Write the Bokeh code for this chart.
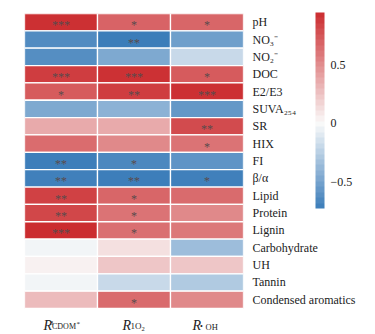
import numpy as np
from bokeh.plotting import figure
from bokeh.models import (ColumnDataSource, LinearColorMapper, ColorBar, FixedTicker,
                          CustomJSTickFormatter, Range1d, LinearAxis)
from bokeh.embed import file_html
from bokeh.resources import INLINE
from bokeh.core.properties import value

# ---------------- data ----------------
rows = ["pH", "NO\u2083\u207b", "NO\u2082\u207b", "DOC", "E2/E3", "SUVA\u2082\u2085\u2084",
        "SR", "HIX", "FI", "\u03b2/\u03b1", "Lipid", "Protein", "Lignin",
        "Carbohydrate", "UH", "Tannin", "Condensed aromatics"]
cols = ["R3CDOM*", "R1O2", "R.OH"]

r_3cdom = [0.93, -0.64, -0.63, 0.87, 0.73, -0.47, 0.37, 0.65, -0.72, -0.71,
           0.85, 0.82, 0.95, -0.03, 0.04, -0.03, 0.29]
r_1o2 = [0.69, -0.73, -0.47, 0.92, 0.87, -0.42, 0.37, 0.52, -0.66, -0.72,
         0.68, 0.62, 0.64, 0.12, 0.24, -0.19, 0.66]
r_oh = [0.68, -0.53, -0.19, 0.73, 0.93, -0.57, 0.80, 0.62, -0.59, -0.71,
        0.66, 0.52, 0.60, -0.35, 0.24, -0.28, 0.52]

sig_3cdom = ["***", "", "", "***", "*", "", "", "", "**", "**", "**", "**", "***", "", "", "", ""]
sig_1o2 = ["*", "**", "", "***", "**", "", "", "", "*", "**", "*", "*", "*", "", "", "", "*"]
sig_oh = ["*", "", "", "*", "***", "", "**", "*", "", "*", "", "", "", "", "", "", ""]

cb_ticks = [-0.5, 0, 0.5]

# ---------------- colours ----------------
LO, HI = -0.73, 0.95
C_LOW = np.array([58, 124, 185])
C_MID = np.array([250, 250, 250])
C_HIGH = np.array([203, 43, 46])


def col_at(v):
    if v >= 0:
        t = v / HI
        c = C_MID + t * (C_HIGH - C_MID)
    else:
        t = v / LO
        c = C_MID + t * (C_LOW - C_MID)
    c = np.clip(np.round(c), 0, 255).astype(int)
    return "#%02x%02x%02x" % tuple(c)


def make_palette(k):
    return [col_at(LO + (i + 0.5) * (HI - LO) / k) for i in range(k)]


mapper = LinearColorMapper(palette=make_palette(256), low=LO, high=HI)
mapper_cb = LinearColorMapper(palette=make_palette(36), low=LO, high=HI)

# ---------------- table ----------------
n = len(rows)
xs, ys, vs, ss = [], [], [], []
for j, (vals, sigs) in enumerate([(r_3cdom, sig_3cdom), (r_1o2, sig_1o2), (r_oh, sig_oh)]):
    for i in range(n):
        xs.append(j + 0.5)
        ys.append(n - 1 - i + 0.5)
        vs.append(vals[i])
        ss.append(sigs[i])
src = ColumnDataSource(dict(x=xs, y=ys, v=vs, s=ss))

SERIF = "Liberation Serif"
BOTTOM_PAD = 26 / (295 / n)   # room below the cells for the column labels

p = figure(width=375, height=334, x_range=Range1d(0, 3), y_range=Range1d(-BOTTOM_PAD, n),
           x_axis_location=None, y_axis_location=None,
           min_border_left=24, min_border_right=132, min_border_top=13, min_border_bottom=0,
           output_backend="svg", toolbar_location=None, outline_line_color=None)
p.grid.visible = False
p.background_fill_color = "white"
p.border_fill_color = "white"

p.rect(x="x", y="y", width=1, height=1, source=src,
       fill_color={"field": "v", "transform": mapper}, line_color="white", line_width=1.3)
p.text(x="x", y="y", text="s", source=src, text_align="center", text_baseline="middle",
       text_font=value(SERIF), text_font_size="12px", text_color="#5a4a4c", y_offset=3)

# row labels on right axis
labels_bottom_up = rows[::-1]
ax = LinearAxis(ticker=FixedTicker(ticks=[i + 0.5 for i in range(n)]),
                formatter=CustomJSTickFormatter(args=dict(labels=labels_bottom_up),
                                                code="return (tick > 0) ? labels[Math.floor(tick)] : '';"))
ax.axis_line_color = None
ax.major_tick_line_color = None
ax.minor_tick_line_color = None
ax.major_label_standoff = 3
ax.major_label_text_font = SERIF
ax.major_label_text_font_size = "12px"
ax.major_label_text_color = "#222222"
p.add_layout(ax, "right")

# colour bar
cb = ColorBar(color_mapper=mapper_cb, ticker=FixedTicker(ticks=cb_ticks),
              formatter=CustomJSTickFormatter(code="return tick < 0 ? '\u2212' + Math.abs(tick) : '' + tick;"),
              width=9, height=196, location=(291, 126), padding=0, margin=0,
              major_tick_line_color=None, minor_tick_line_color=None, bar_line_color=None,
              border_line_color=None, background_fill_color=None, label_standoff=6,
              major_label_text_font=SERIF, major_label_text_font_size="12px",
              major_label_text_color="#222222")
p.add_layout(cb)

# column labels (italic R with sub/superscripts), drawn as text glyphs below the cells
def lab(x, text, dx, dy, size, italic=False):
    p.text(x=[x], y=[0], text=[text], x_offset=dx, y_offset=dy,
           text_font=value(SERIF), text_font_size=size,
           text_font_style="italic" if italic else "normal",
           text_color="#222222", text_baseline="alphabetic", text_align="left")

lab(0.5, "R", -17.5, 17, "14px", True)
lab(0.5, "3", -11, 14, "6.5px")
lab(0.5, "CDOM", -9, 18, "8px")
lab(0.5, "*", 15.5, 15, "7px")

lab(1.5, "R", -11.5, 17, "14px", True)
lab(1.5, "1", -3.5, 17.5, "9px")
lab(1.5, "O", 1, 17.5, "9px")
lab(1.5, "2", 7.5, 20, "6.5px")

lab(2.5, "R", -14.5, 17, "14px", True)
lab(2.5, "\u2022", -7, 17.5, "8px")
lab(2.5, "OH", -1.5, 18, "8.5px")

open("out.html", "w").write(file_html(p, INLINE))
